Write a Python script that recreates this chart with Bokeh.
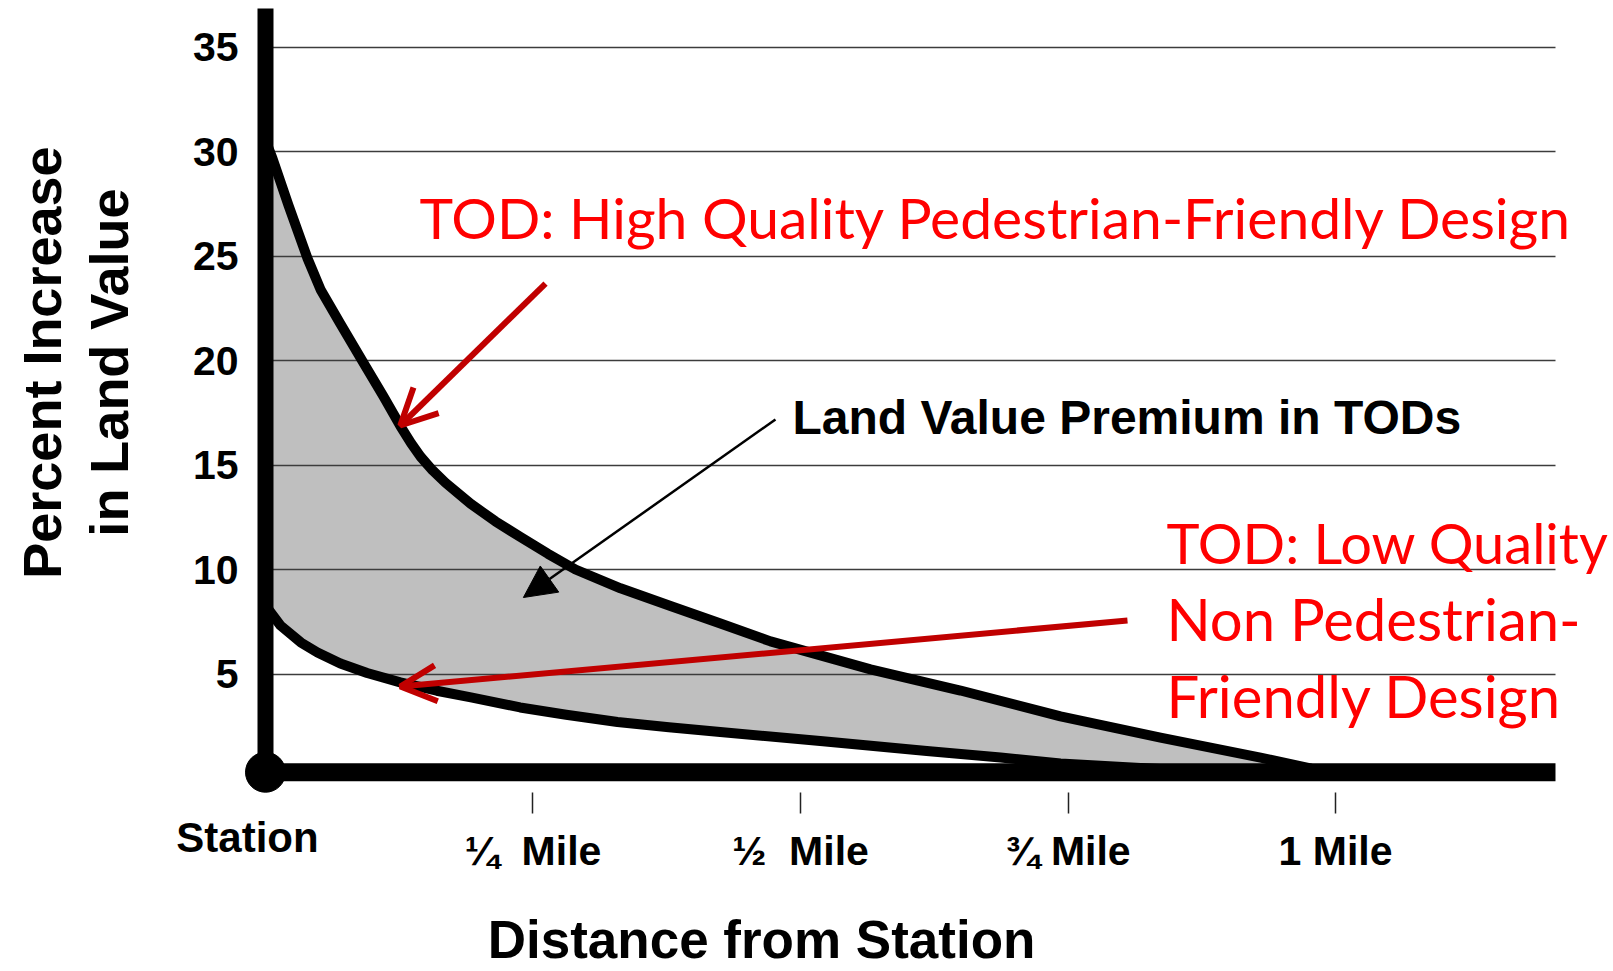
import math
from bokeh.plotting import figure
from bokeh.models import (Range1d, FixedTicker, Label, Arrow, OpenHead, NormalHead,
                          LinearAxis, Grid)
from bokeh.embed import file_html
from bokeh.resources import INLINE

# ---------------- data ----------------
# distance from station in miles, percent increase in land value
high_quality_distance = [0.0, 0.0065, 0.0215, 0.0393, 0.0514, 0.0701, 0.0897, 0.1103, 0.1262,
                         0.1360, 0.1449, 0.1560, 0.1682, 0.1916, 0.2150, 0.2383, 0.2640, 0.2897,
                         0.3318, 0.3785, 0.4252, 0.4720, 0.5654, 0.6495, 0.7430, 0.8364,
                         0.9299, 0.9766]
high_quality_value = [30.53, 29.67, 27.42, 24.88, 23.40, 21.75, 20.05, 18.28, 16.85,
                      16.05, 15.40, 14.75, 14.15, 13.15, 12.30, 11.55, 10.75, 10.00,
                      9.10, 8.25, 7.42, 6.56, 5.22, 4.21, 2.97, 1.96,
                      1.00, 0.48]

low_quality_distance = [0.0, 0.014, 0.033, 0.0486, 0.070, 0.095, 0.126, 0.160, 0.192, 0.238,
                        0.281, 0.329, 0.377, 0.425, 0.521, 0.618, 0.687, 0.743, 0.836, 0.977]
low_quality_value = [8.28, 7.32, 6.51, 6.03, 5.50, 5.05, 4.60, 4.20, 3.88, 3.40,
                     3.05, 2.70, 2.45, 2.22, 1.78, 1.32, 1.00, 0.72, 0.45, 0.40]

y_ticks = [5, 10, 15, 20, 25, 30, 35]
x_ticks = [0.25, 0.5, 0.75, 1.0]
x_tick_labels = ["¼\u00a0 Mile", "½\u00a0 Mile", "¾ Mile", "1 Mile"]

station_distance = 0.0
axis_base = 0.3          # where the thick distance axis sits
y_axis_top = 36.84       # top end of the thick value axis
x_axis_end = 1.2056      # right end of the thick distance axis and grid lines
tick_level = -0.67       # where the distance tick marks start

X_START, X_END = -0.24766, 1.25981
Y_START, Y_END = -9.2344, 37.2249

FONT_BOLD = "Liberation Sans"
FONT_RED = "Lato"
RED_TEXT = "#FF0000"
RED_ARROW = "#C00000"

p = figure(width=1613, height=971, title=None,
           x_range=Range1d(X_START, X_END), y_range=Range1d(Y_START, Y_END),
           x_axis_location=None, y_axis_location=None,
           output_backend="svg", toolbar_location=None,
           min_border=0, min_border_left=0, min_border_right=0,
           min_border_top=0, min_border_bottom=0)
p.outline_line_color = None
p.background_fill_color = "white"
p.border_fill_color = "white"

# remove default grids, add the value grid only
p.center = [r for r in p.center if not isinstance(r, Grid)]
grid = Grid(dimension=1, ticker=FixedTicker(ticks=y_ticks),
            grid_line_color="#3c3c3c", grid_line_width=1.5,
            cross_bounds=(station_distance, x_axis_end))
p.add_layout(grid)

# axes drawn at fixed locations inside the drawing area
yaxis = LinearAxis(fixed_location=station_distance, ticker=FixedTicker(ticks=y_ticks))
yaxis.axis_line_color = None
yaxis.major_tick_line_color = None
yaxis.minor_tick_line_color = None
yaxis.major_tick_in = 0
yaxis.major_tick_out = 0
yaxis.major_label_standoff = 27
yaxis.major_label_text_font = FONT_BOLD
yaxis.major_label_text_font_size = "41px"
yaxis.major_label_text_font_style = "bold"
yaxis.major_label_text_color = "black"
p.add_layout(yaxis, "left")

xaxis = LinearAxis(fixed_location=tick_level, ticker=FixedTicker(ticks=x_ticks))
xaxis.major_label_overrides = dict(zip(x_ticks, x_tick_labels))
xaxis.axis_line_color = None
xaxis.major_tick_in = 0
xaxis.major_tick_out = 21
xaxis.major_tick_line_width = 1.5
xaxis.major_tick_line_color = "#222222"
xaxis.minor_tick_line_color = None
xaxis.major_label_standoff = 14
xaxis.major_label_text_font = FONT_BOLD
xaxis.major_label_text_font_size = "41px"
xaxis.major_label_text_font_style = "bold"
xaxis.major_label_text_color = "black"
p.add_layout(xaxis, "below")

# premium area between the two curves
p.patch(high_quality_distance + low_quality_distance[::-1],
        high_quality_value + low_quality_value[::-1],
        fill_color="#BFBFBF", line_color=None, level="image")

p.line(high_quality_distance, high_quality_value, line_color="black", line_width=10,
       line_join="round", line_cap="round")
p.line(low_quality_distance, low_quality_value, line_color="black", line_width=10,
       line_join="round", line_cap="round")

# thick axes and station dot
p.segment(x0=[station_distance], y0=[axis_base], x1=[station_distance], y1=[y_axis_top],
          line_color="black", line_width=16, line_cap="butt")
p.segment(x0=[station_distance], y0=[axis_base], x1=[x_axis_end], y1=[axis_base],
          line_color="black", line_width=18, line_cap="butt")
p.scatter(x=[station_distance], y=[axis_base], size=40, fill_color="black", line_color="black")

# arrows
p.add_layout(Arrow(end=OpenHead(size=36, line_color=RED_ARROW, line_width=6),
                   x_start=0.2617, y_start=23.68, x_end=0.126, y_end=16.89,
                   line_color=RED_ARROW, line_width=6))
p.add_layout(Arrow(end=OpenHead(size=36, line_color=RED_ARROW, line_width=6),
                   x_start=0.8056, y_start=7.56, x_end=0.126, y_end=4.40,
                   line_color=RED_ARROW, line_width=6))
p.add_layout(Arrow(end=NormalHead(size=32, fill_color="black", line_color="black"),
                   x_start=0.4766, y_start=17.18, x_end=0.241, y_end=8.66,
                   line_color="black", line_width=2.5))


def add_text(x, y, text, size, color="black", font=FONT_BOLD, style="bold",
             align="left", baseline="alphabetic", angle=0.0):
    p.add_layout(Label(x=x, y=y, text=text, text_font=font, text_font_size=size,
                       text_font_style=style, text_color=color, text_align=align,
                       text_baseline=baseline, angle=angle))


# axis titles
add_text(-0.2093, 19.9, "Percent Increase", "54px", align="center", baseline="middle",
         angle=math.pi / 2)
add_text(-0.1467, 19.9, "in Land Value", "54px", align="center", baseline="middle",
         angle=math.pi / 2)
add_text(0.4636, -7.70, "Distance from Station", "53px", align="center")
add_text(-0.0168, -2.82, "Station", "42px", align="center")

# annotations
add_text(0.1439, 26.86, "TOD: High Quality Pedestrian-Friendly Design", "57px",
         color=RED_TEXT, font=FONT_RED, style="normal")
add_text(0.4925, 17.27, "Land Value Premium in TODs", "48px")
add_text(0.8420, 11.29, "TOD: Low Quality", "56px", color=RED_TEXT, font=FONT_RED, style="normal")
add_text(0.8420, 7.65, "Non Pedestrian-", "58px", color=RED_TEXT, font=FONT_RED, style="normal")
add_text(0.8420, 3.97, "Friendly Design", "58px", color=RED_TEXT, font=FONT_RED, style="normal")

open("out.html", "w").write(file_html(p, INLINE))
